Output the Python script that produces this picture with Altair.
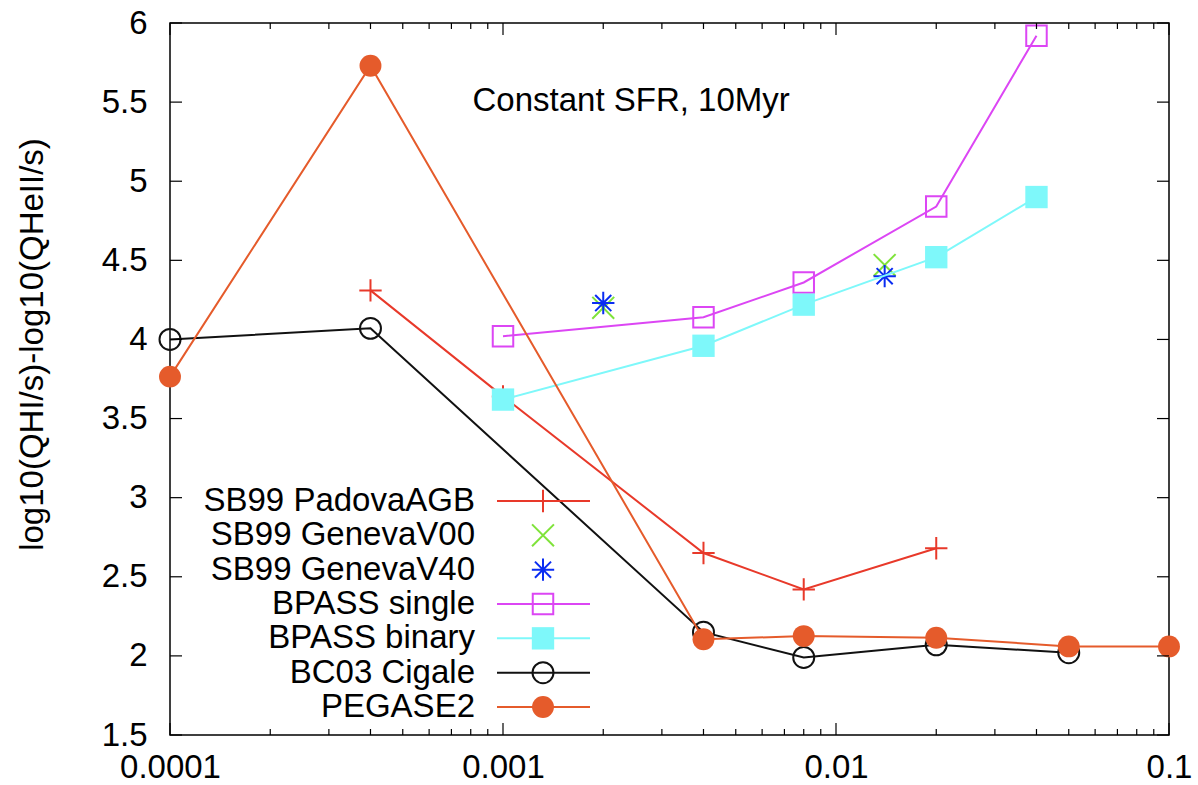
import altair as alt
import pandas as pd

FONT = "Liberation Sans"
FS = 33

SERIES = ["SB99 PadovaAGB", "SB99 GenevaV00", "SB99 GenevaV40",
          "BPASS single", "BPASS binary", "BC03 Cigale", "PEGASE2"]
COLORS = ["#e8392a", "#7fe33a", "#0a2cf2", "#dc46f4", "#7ef8fa", "#111111", "#e55b2b"]
HAS_LINE = [True, False, False, True, True, True, True]

PLUS = "M-1,0H1M0,-1V1"
XMARK = "M-1,-1L1,1M-1,1L1,-1"
STAR = "M-1,0H1M0,-1V1M-0.72,-0.72L0.72,0.72M-0.72,0.72L0.72,-0.72"
SHAPES = [PLUS, XMARK, STAR, "square", "square", "circle", "circle"]
FILLED = [False, False, False, False, True, False, True]
SIZES = [500, 480, 500, 420, 500, 440, 480]

padova_x = [0.0004, 0.001, 0.004, 0.008, 0.02]
padova_y = [4.31, 3.64, 2.65, 2.42, 2.68]
v00_x = [0.002, 0.014]
v00_y = [4.20, 4.47]
v40_x = [0.002, 0.014]
v40_y = [4.23, 4.40]
single_x = [0.001, 0.004, 0.008, 0.02, 0.04]
single_y = [4.02, 4.14, 4.36, 4.84, 5.92]
binary_x = [0.001, 0.004, 0.008, 0.02, 0.04]
binary_y = [3.62, 3.96, 4.22, 4.52, 4.90]
bc03_x = [0.0001, 0.0004, 0.004, 0.008, 0.02, 0.05]
bc03_y = [4.00, 4.07, 2.15, 1.99, 2.07, 2.02]
pegase_x = [0.0001, 0.0004, 0.004, 0.008, 0.02, 0.05, 0.1]
pegase_y = [3.765, 5.73, 2.105, 2.125, 2.115, 2.06, 2.06]

XS = [padova_x, v00_x, v40_x, single_x, binary_x, bc03_x, pegase_x]
YS = [padova_y, v00_y, v40_y, single_y, binary_y, bc03_y, pegase_y]

X_LABELS = [0.0001, 0.001, 0.01, 0.1]
X_MINOR = [m * d for d in [0.0001, 0.001, 0.01] for m in range(2, 10)]
Y_LABELS = [1.5, 2, 2.5, 3, 3.5, 4, 4.5, 5, 5.5, 6]

ANNOT = "Constant SFR, 10Myr"
ANNOT_X = 0.00081
ANNOT_Y = 5.51
Y_TITLE = "log10(QHI/s)-log10(QHeII/s)"

W, H = 999, 712

xs = alt.Scale(type="log", domain=[0.0001, 0.1], nice=False)
ys = alt.Scale(domain=[1.5, 6], nice=False, zero=False)

x_axis = alt.Axis(values=X_LABELS, format="~g", title=None, labelFlush=False,
                  labelPadding=16)
y_axis = alt.Axis(values=Y_LABELS, format="~g", title=Y_TITLE, labelFlush=False,
                  labelPadding=23, titleX=-121, titleY=321, titleAngle=270,
                  titleBaseline="bottom", titleAlign="center")


def X(field):
    return alt.X(field, scale=xs, axis=x_axis)


def Y(field):
    return alt.Y(field, scale=ys, axis=y_axis)


layers = []
for i, name in enumerate(SERIES):
    df = pd.DataFrame({"x": XS[i], "y": YS[i]})
    base = alt.Chart(df)
    if HAS_LINE[i]:
        layers.append(base.mark_line(color=COLORS[i], strokeWidth=2).encode(
            x=X("x:Q"), y=Y("y:Q")))
    layers.append(base.mark_point(
        shape=SHAPES[i], size=SIZES[i], filled=FILLED[i], color=COLORS[i],
        strokeWidth=2, opacity=1).encode(x=X("x:Q"), y=Y("y:Q")))

# inward tick marks on all four sides
xt = pd.DataFrame({"x": X_LABELS + X_MINOR,
                   "major": [1] * len(X_LABELS) + [0] * len(X_MINOR)})
yt = pd.DataFrame({"y": Y_LABELS})
for major, ln in [(1, 12), (0, 6)]:
    sub = xt[xt["major"] == major]
    layers.append(alt.Chart(sub).mark_rule(color="black", strokeWidth=1.2).encode(
        x=X("x:Q"), y=alt.value(H), y2=alt.value(H - ln)))
    layers.append(alt.Chart(sub).mark_rule(color="black", strokeWidth=1.2).encode(
        x=X("x:Q"), y=alt.value(0), y2=alt.value(ln)))
layers.append(alt.Chart(yt).mark_rule(color="black", strokeWidth=1.2).encode(
    y=Y("y:Q"), x=alt.value(0), x2=alt.value(12)))
layers.append(alt.Chart(yt).mark_rule(color="black", strokeWidth=1.2).encode(
    y=Y("y:Q"), x=alt.value(W), x2=alt.value(W - 12)))

annot = alt.Chart(pd.DataFrame({"t": [ANNOT], "x": [ANNOT_X], "y": [ANNOT_Y]})).mark_text(
    align="left", baseline="middle", font=FONT, fontSize=FS, color="black").encode(
    x=X("x:Q"), y=Y("y:Q"), text="t:N")
layers.append(annot)

main = alt.layer(*layers)

# legend (gnuplot style: label, then sample on the right)
ly = alt.Scale(type="point", domain=SERIES, range=[478, 684], padding=0)
leg_df = pd.DataFrame({"series": SERIES})
leg_layers = [alt.Chart(leg_df).mark_text(
    align="right", baseline="middle", font=FONT, fontSize=FS, color="black").encode(
    y=alt.Y("series:N", scale=ly, axis=None), x=alt.value(305), text="series:N")]
for i, name in enumerate(SERIES):
    d = pd.DataFrame({"series": [name]})
    if HAS_LINE[i]:
        leg_layers.append(alt.Chart(d).mark_rule(color=COLORS[i], strokeWidth=2).encode(
            y=alt.Y("series:N", scale=ly, axis=None), x=alt.value(327), x2=alt.value(420)))
    leg_layers.append(alt.Chart(d).mark_point(
        shape=SHAPES[i], size=SIZES[i], filled=FILLED[i], color=COLORS[i],
        strokeWidth=2, opacity=1).encode(
        y=alt.Y("series:N", scale=ly, axis=None), x=alt.value(373)))
legend = alt.layer(*leg_layers)

chart = alt.layer(main, legend).resolve_scale(y="independent").properties(
    width=W, height=H,
    padding={"left": 170, "top": 23, "right": 29, "bottom": 50},
    autosize=alt.AutoSizeParams(type="none"),
).configure_axis(
    grid=False, ticks=False, domain=False,
    labelFont=FONT, labelFontSize=FS, labelColor="black",
    titleFont=FONT, titleFontSize=FS, titleFontWeight="normal", titleColor="black",
).configure_view(stroke="black", strokeWidth=1.5)

chart.save("out.html", embed_options={"renderer": "svg", "actions": False})
